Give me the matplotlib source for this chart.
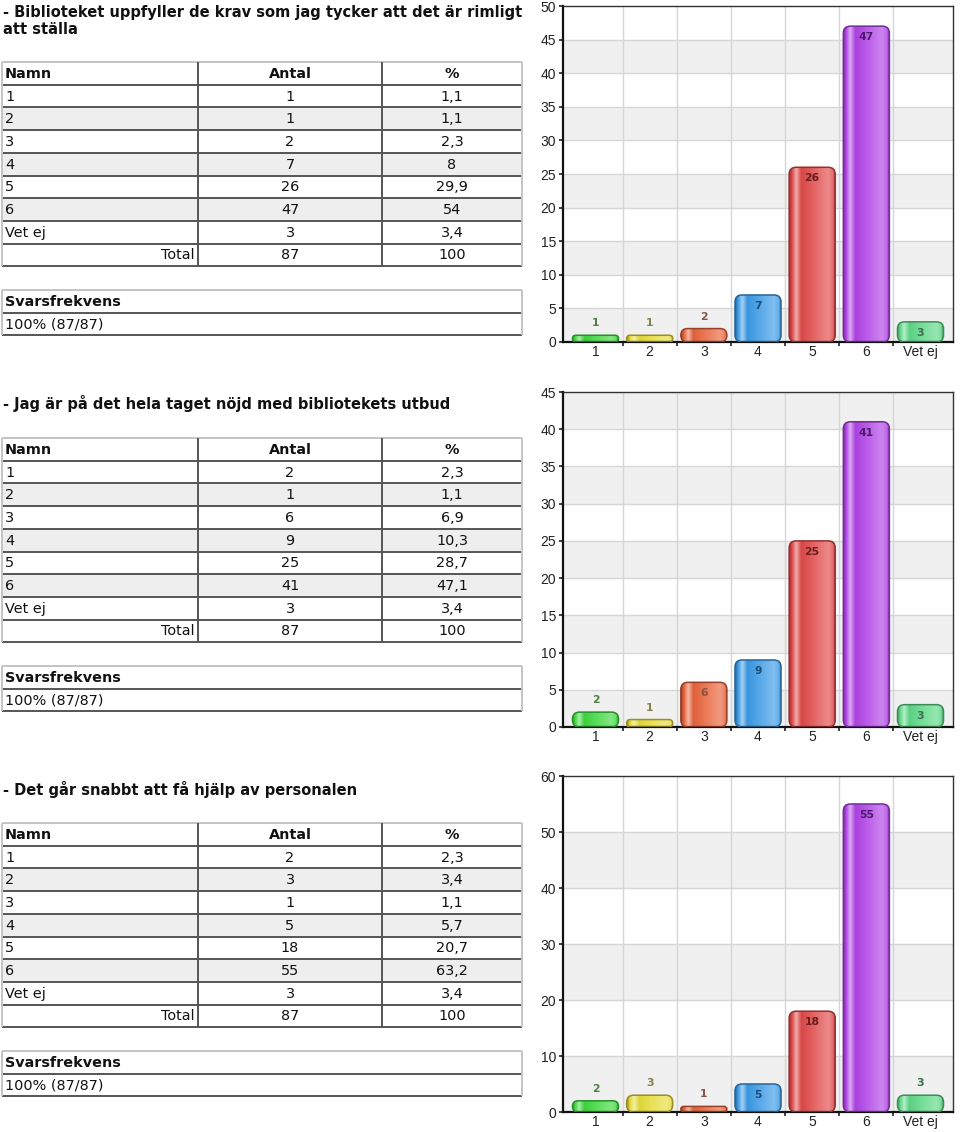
import numpy as np
import matplotlib
matplotlib.use("Agg")
import matplotlib.pyplot as plt
from matplotlib.patches import Rectangle, FancyBboxPatch
from matplotlib.colors import to_rgb

W, H = 960, 1132

# Data
names = ["1", "2", "3", "4", "5", "6", "Vet ej"]
titles = [
    "- Biblioteket uppfyller de krav som jag tycker att det är rimligt\natt ställa",
    "- Jag är på det hela taget nöjd med bibliotekets utbud",
    "- Det går snabbt att få hjälp av personalen",
]
q1_counts = [1, 1, 2, 7, 26, 47, 3]
q1_pct = ["1,1", "1,1", "2,3", "8", "29,9", "54", "3,4"]
q2_counts = [2, 1, 6, 9, 25, 41, 3]
q2_pct = ["2,3", "1,1", "6,9", "10,3", "28,7", "47,1", "3,4"]
q3_counts = [2, 3, 1, 5, 18, 55, 3]
q3_pct = ["2,3", "3,4", "1,1", "5,7", "20,7", "63,2", "3,4"]
total_n = 87
total_pct = 100
response_rate = "100% (87/87)"
y_max = [50, 45, 60]
y_step = [5, 5, 10]

bar_colors = ["#3fd83f", "#e6dc3c", "#e8643c", "#3c9be6", "#e04a4a", "#b044e6", "#5ed886"]
label_colors = ["#4f7f45", "#85834e", "#865545", "#1d4c78", "#6a1c1c", "#4c1b6a", "#3e6e50"]

# layout in pixels
chart_boxes = [(563, 6, 953, 342), (563, 392, 953, 727), (563, 776, 953, 1112)]
title_y = [(12, 30), (404,), (789,)]
header_top = [62, 438, 823]
svars_top = [290, 666, 1051]
ROW_H = 22.7
COLS = [2, 198, 382, 522]

TABLE_FONT = "DejaVu Sans"
AXIS_FONT = "Liberation Sans"

fig = plt.figure(figsize=(W / 100, H / 100), dpi=100)
ax0 = fig.add_axes([0, 0, 1, 1])
ax0.set_xlim(0, W)
ax0.set_ylim(H, 0)
ax0.axis("off")

DARK = "#555555"
LIGHT = "#c4c4c4"
LW = 1.4


def hline(x0, x1, y, c):
    ax0.plot([x0, x1], [y, y], color=c, lw=LW, solid_capstyle="butt")


def vline(x, y0, y1, c):
    ax0.plot([x, x], [y0, y1], color=c, lw=LW, solid_capstyle="butt")


def draw_table(idx, counts, pct):
    for k, line in enumerate(titles[idx].split("\n")):
        ax0.text(3, title_y[idx][k], line, fontsize=10.5, fontweight="bold",
                 family=TABLE_FONT, va="center", ha="left", color="#111111")

    top = header_top[idx]
    rows = [("Namn", "Antal", "%")] + \
           [(n, str(c), p) for n, c, p in zip(names, counts, pct)] + \
           [("Total", str(total_n), str(total_pct))]
    for r, row in enumerate(rows):
        y0 = top + r * ROW_H
        shade = "#eeeeee" if r in (2, 4, 6) else "white"
        ax0.add_patch(Rectangle((COLS[0], y0), COLS[3] - COLS[0], ROW_H,
                                facecolor=shade, edgecolor="none"))
        yc = y0 + ROW_H / 2 + 0.5
        bold = "bold" if r == 0 else "normal"
        if row[0] == "Total":
            ax0.text(COLS[1] - 3, yc, row[0], ha="right", va="center",
                     fontsize=10.4, family=TABLE_FONT, color="#111111")
        else:
            ax0.text(COLS[0] + 3, yc, row[0], ha="left", va="center",
                     fontsize=10.4, family=TABLE_FONT, fontweight=bold, color="#111111")
        ax0.text((COLS[1] + COLS[2]) / 2, yc, row[1], ha="center", va="center",
                 fontsize=10.4, family=TABLE_FONT, fontweight=bold, color="#111111")
        ax0.text((COLS[2] + COLS[3]) / 2, yc, row[2], ha="center", va="center",
                 fontsize=10.4, family=TABLE_FONT, fontweight=bold, color="#111111")
        if r > 0:
            hline(COLS[0], COLS[3], y0, DARK)
    bottom = top + len(rows) * ROW_H
    hline(COLS[0], COLS[3], bottom, DARK)
    hline(COLS[0], COLS[3], top, LIGHT)
    vline(COLS[0], top, bottom, LIGHT)
    vline(COLS[3], top, bottom, LIGHT)
    vline(COLS[1], top, bottom, DARK)
    vline(COLS[2], top, bottom, DARK)

    st = svars_top[idx]
    ax0.text(COLS[0] + 3, st + ROW_H / 2 + 0.5, "Svarsfrekvens", ha="left", va="center",
             fontsize=10.4, family=TABLE_FONT, fontweight="bold", color="#111111")
    ax0.text(COLS[0] + 3, st + ROW_H * 1.5 + 0.5, response_rate, ha="left", va="center",
             fontsize=10.4, family=TABLE_FONT, color="#111111")
    hline(COLS[0], COLS[3], st, LIGHT)
    hline(COLS[0], COLS[3], st + ROW_H, DARK)
    hline(COLS[0], COLS[3], st + 2 * ROW_H, DARK)
    vline(COLS[0], st, st + 2 * ROW_H, LIGHT)
    vline(COLS[3], st, st + 2 * ROW_H, LIGHT)


def mix(c, t, f):
    return tuple(np.array(c) * (1 - f) + np.array(t) * f)


def gradient_for(color):
    c = np.array(to_rgb(color))
    white, black = np.ones(3), np.zeros(3)
    stops = [0.0, 0.06, 0.15, 0.26, 0.5, 0.84, 0.94, 1.0]
    cols = [mix(c, black, 0.3), c, mix(c, white, 0.55), mix(c, black, 0.04),
            mix(c, white, 0.12), mix(c, white, 0.35), mix(c, white, 0.2), mix(c, black, 0.3)]
    xs = np.linspace(0, 1, 64)
    img = np.zeros((1, 64, 3))
    for ch in range(3):
        img[0, :, ch] = np.interp(xs, stops, [col[ch] for col in cols])
    return img


def draw_chart(idx, counts):
    x0, y0, x1, y1 = chart_boxes[idx]
    ax = fig.add_axes([x0 / W, 1 - y1 / H, (x1 - x0) / W, (y1 - y0) / H])
    ymax, step = y_max[idx], y_step[idx]
    n = len(names)
    xlo, xhi = -0.6, n - 0.4
    px_x = (x1 - x0) / (xhi - xlo)
    px_y = (y1 - y0) / ymax

    for lo in range(0, ymax, 2 * step):
        ax.axhspan(lo, lo + step, color="#f0f0f0", zorder=0, lw=0)
    for yv in range(step, ymax, step):
        ax.axhline(yv, color="#d6d6d6", lw=1, zorder=0.5)
    for xv in np.arange(0.5, n - 0.5, 1):
        ax.axvline(xv, color="#d6d6d6", lw=1, zorder=0.5)

    bars = ax.bar(range(n), counts, width=0.85, color="none", edgecolor="none")
    for i, rect in enumerate(bars):
        bx, bw, bh = rect.get_x(), rect.get_width(), rect.get_height()
        h_px = bh * px_y
        r_px = min(7, h_px / 2)
        patch = FancyBboxPatch((bx, 0), bw, bh,
                               boxstyle=f"round,pad=0,rounding_size={r_px / px_x}",
                               mutation_aspect=px_x / px_y,
                               facecolor="none",
                               edgecolor=mix(to_rgb(bar_colors[i]), (0, 0, 0), 0.35),
                               lw=1.1, zorder=3)
        ax.add_patch(patch)
        im = ax.imshow(gradient_for(bar_colors[i]), extent=(bx, bx + bw, 0, bh),
                       aspect="auto", zorder=2, interpolation="bilinear")
        im.set_clip_path(patch)
        off = -11 if h_px >= 19 else 12
        ax.annotate(str(counts[i]), (i, bh), xytext=(0, off * 0.72),
                    textcoords="offset points", ha="center", va="center",
                    fontsize=7.8, fontweight="bold", family=TABLE_FONT,
                    color=label_colors[i], zorder=4)
    ax.set_xlim(xlo, xhi)
    ax.set_ylim(0, ymax)

    ax.set_yticks(range(0, ymax + 1, step))
    ax.set_xticks(range(n))
    ax.set_xticklabels(names)
    ax.set_xticks(np.arange(0.5, n - 0.5, 1), minor=True)
    ax.tick_params(axis="x", which="major", length=0, pad=2.5)
    ax.tick_params(axis="x", which="minor", length=3, width=1.2, color="#222222")
    ax.tick_params(axis="y", length=3, width=1.2, color="#222222", pad=2)
    for lab in ax.get_xticklabels() + ax.get_yticklabels():
        lab.set_fontfamily(AXIS_FONT)
        lab.set_fontsize(10)
        lab.set_color("#222222")
    for s in ("left", "bottom"):
        ax.spines[s].set_linewidth(1.6)
        ax.spines[s].set_color("#111111")
    for s in ("top", "right"):
        ax.spines[s].set_linewidth(1.0)
        ax.spines[s].set_color("#333333")
    ax.set_facecolor("white")


for idx, (counts, pct) in enumerate([(q1_counts, q1_pct), (q2_counts, q2_pct),
                                      (q3_counts, q3_pct)]):
    draw_table(idx, counts, pct)
    draw_chart(idx, counts)

fig.savefig("out.png", dpi=100)
